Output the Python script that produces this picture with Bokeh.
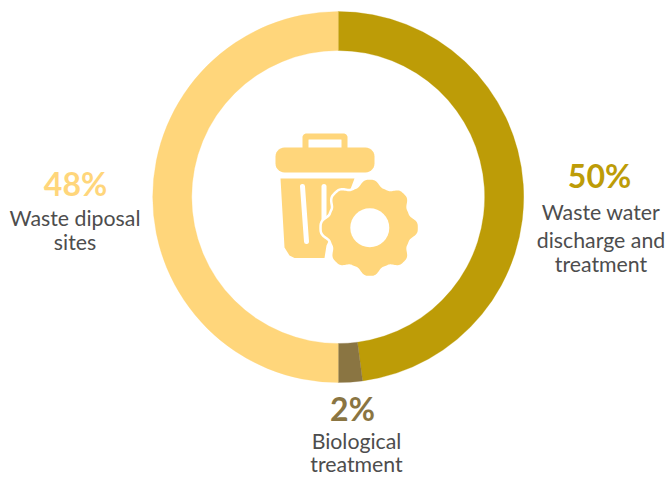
import numpy as np
from bokeh.plotting import figure
from bokeh.models import Range1d, ColumnDataSource
from bokeh.core.properties import value
from bokeh.embed import file_html
from bokeh.resources import INLINE

# Data
slice_names = ["Waste water discharge and treatment", "Biological treatment", "Waste diposal sites"]
slice_shares = [47.9, 2.1, 50.0]
slice_colors = ["#BD9C07", "#8A7542", "#FFD67B"]
pct_labels = ["50%", "2%", "48%"]
desc_labels = [["Waste water", "discharge and", "treatment"], ["Biological", "treatment"], ["Waste diposal", "sites"]]

# Layout (page pixels, y flipped by negating)
CX, CY, R_OUT, R_IN = 337.7, 196.5, 185.5, 146.5
pct_pos = [(599, 175), (352, 407.5), (75, 183)]
desc_pos = [(600.5, [211.5, 239.5, 263.5]), (356, [440, 463.5]), (74.5, [217.5, 241.5])]
ICON = "#FFD67B"

p = figure(width=668, height=477, x_range=Range1d(0, 668), y_range=Range1d(-477, 0),
           toolbar_location=None, output_backend="svg", min_border=0,
           x_axis_type=None, y_axis_type=None, outline_line_color=None,
           background_fill_color="white", border_fill_color="white")
p.grid.visible = False

shares = np.array(slice_shares)
ends = np.cumsum(shares) / shares.sum() * 2 * np.pi
starts = ends - shares / shares.sum() * 2 * np.pi
src = ColumnDataSource(dict(x=[CX] * 3, y=[-CY] * 3, start=np.pi / 2 - ends, end=np.pi / 2 - starts,
                            color=slice_colors, name=slice_names))
p.annular_wedge(x="x", y="y", inner_radius=R_IN, outer_radius=R_OUT, start_angle="start", end_angle="end",
                direction="anticlock", fill_color="color", line_color="color", line_width=0.3, source=src)


def rrect(x0, y0, x1, y1, r):
    xs, ys = [], []
    for cx, cy, a0 in [(x1 - r, y0 + r, -90), (x1 - r, y1 - r, 0), (x0 + r, y1 - r, 90), (x0 + r, y0 + r, 180)]:
        t = np.radians(np.linspace(a0, a0 + 90, 8))
        xs += list(cx + r * np.cos(t))
        ys += list(cy + r * np.sin(t))
    return xs, [-v for v in ys]


# Trash can icon
hx, hy = rrect(302, 133, 347, 156, 4)
p.patch(hx, hy, fill_color=ICON, line_color=None)
hx, hy = rrect(308, 139, 341, 156, 0.5)
p.patch(hx, hy, fill_color="white", line_color=None)
lx, ly = rrect(275, 147, 374, 172, 9)
p.patch(lx, ly, fill_color=ICON, line_color=None)
p.patch([280, 354, 340, 326, 324, 294, 289, 284], [-178, -178, -215, -245, -257.5, -257.5, -255, -247],
        fill_color=ICON, line_color=None)
p.line([302, 306], [-186, -241], line_color="white", line_width=5, line_cap="round")
p.line([323.5, 323.5], [-186, -225], line_color="white", line_width=5, line_cap="round")

# Gear
GX, GY = 369.3, 227.3
th = np.linspace(0, 2 * np.pi, 360, endpoint=False)
prof = np.clip(0.5 + 0.8 * np.cos(8 * th), 0, 1)
rad = 41.2 + 6.8 * prof
kernel = np.ones(7) / 7
rad = np.convolve(np.r_[rad[-3:], rad, rad[:3]], kernel, mode="valid")
p.patch(GX + rad * np.sin(th), -GY + rad * np.cos(th), fill_color=ICON, line_color="white", line_width=5,
        line_join="round")
p.patch(GX + rad * np.sin(th), -GY + rad * np.cos(th), fill_color=ICON, line_color=None)
p.circle(x=[GX], y=[-GY], radius=19.5, fill_color="white", line_color=None)

# Labels
for (x, y), t, c in zip(pct_pos, pct_labels, slice_colors):
    p.text(x=[x], y=[-y], text=[t], text_font=value("Lato"), text_font_style="bold", text_font_size="32px",
           text_color=c, text_align="center", text_baseline="middle")
for (x, ys), lines in zip(desc_pos, desc_labels):
    p.text(x=[x] * len(lines), y=[-v for v in ys], text=lines, text_font=value("Lato"), text_font_size="21.3px",
           text_color="#4D4D4D", text_align="center", text_baseline="middle")

open("out.html", "w").write(file_html(p, INLINE))
